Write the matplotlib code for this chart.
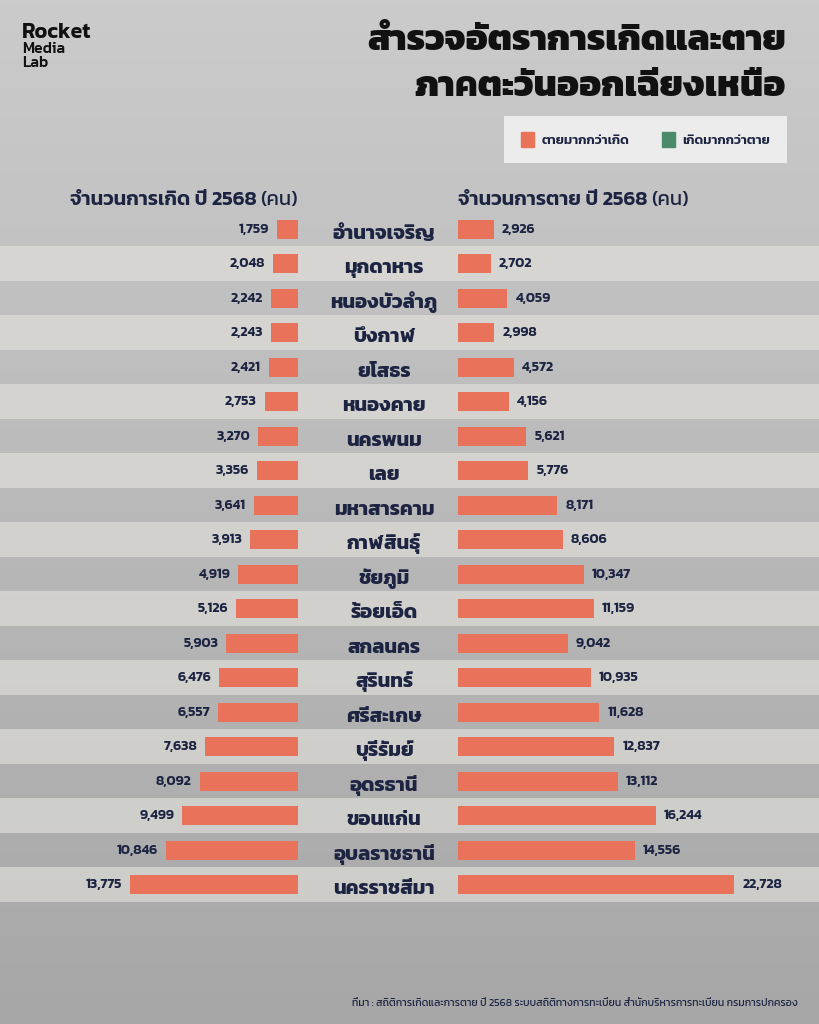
import numpy as np
import matplotlib
matplotlib.use("Agg")
import matplotlib.pyplot as plt
from matplotlib.patches import Patch

plt.rcParams['font.family'] = ['Kanit', 'DejaVu Sans']

# ข้อมูลปี 2568 (คน)
provinces = ['อำนาจเจริญ', 'มุกดาหาร', 'หนองบัวลำภู', 'บึงกาฬ', 'ยโสธร',
             'หนองคาย', 'นครพนม', 'เลย', 'มหาสารคาม', 'กาฬสินธุ์',
             'ชัยภูมิ', 'ร้อยเอ็ด', 'สกลนคร', 'สุรินทร์', 'ศรีสะเกษ',
             'บุรีรัมย์', 'อุดรธานี', 'ขอนแก่น', 'อุบลราชธานี', 'นครราชสีมา']
births = [1759, 2048, 2242, 2243, 2421, 2753, 3270, 3356, 3641, 3913,
          4919, 5126, 5903, 6476, 6557, 7638, 8092, 9499, 10846, 13775]
deaths = [2926, 2702, 4059, 2998, 4572, 4156, 5621, 5776, 8171, 8606,
          10347, 11159, 9042, 10935, 11628, 12837, 13112, 16244, 14556, 22728]

RED = '#e8735a'
GREEN = '#4b8b69'
NAVY = '#1c2442'

W, H = 819, 1024
fig = plt.figure(figsize=(W / 100, H / 100), dpi=100)

# background gradient
bg = fig.add_axes([0, 0, 1, 1], zorder=-10)
grad = np.linspace(0, 1, 256).reshape(-1, 1)
bg.imshow(grad, cmap=matplotlib.colors.LinearSegmentedColormap.from_list(
    'g', ['#cbcbcb', '#a7a7a7']), aspect='auto', extent=[0, 1, 0, 1])
bg.axis('off')

n = len(provinces)
rows = np.arange(n)
top_px, bot_px = 212, 902
ax_b = 1 - bot_px / H
ax_h = (bot_px - top_px) / H
px_unit = 82.2  # persons per pixel

# stripes
band = fig.add_axes([0, ax_b, 1, ax_h], zorder=-5)
band.patch.set_visible(False)
band.set_xlim(0, 1)
band.set_ylim(n - 0.5, -0.5)
for i in rows:
    if i % 2 == 1:
        band.axhspan(i - 0.5, i + 0.5, color='#e3e2dd', alpha=0.62, lw=0)
band.axis('off')

colors = [RED if d > b else GREEN for b, d in zip(births, deaths)]

# births (left)
axl = fig.add_axes([0, ax_b, 298 / W, ax_h])
axl.barh(rows, births, height=0.56, color=colors)
axl.set_xlim(298 * px_unit, 0)
axl.set_ylim(n - 0.5, -0.5)
axl.axis('off')
for i, v in enumerate(births):
    axl.text(v + 8 * px_unit, i, f'{v:,}', ha='right', va='center',
             fontsize=10, fontweight='semibold', color=NAVY)

# deaths (right)
axr = fig.add_axes([458 / W, ax_b, (W - 458) / W, ax_h])
axr.barh(rows, deaths, height=0.56, color=colors)
axr.set_xlim(0, (W - 458) * px_unit)
axr.set_ylim(n - 0.5, -0.5)
axr.axis('off')
for i, v in enumerate(deaths):
    axr.text(v + 8 * px_unit, i, f'{v:,}', ha='left', va='center',
             fontsize=10, fontweight='semibold', color=NAVY)

# province names
for i, name in enumerate(provinces):
    band.text(384 / W, i + 0.27, name, ha='center', va='baseline',
              fontsize=14.5, fontweight='bold', color=NAVY)

# logo
fig.text(22 / W, 1 - 38 / H, 'Rocket', fontsize=15.5, fontweight='semibold',
         color='#111111', va='baseline')
fig.text(22 / W, 1 - 53 / H, 'Media', fontsize=11.3, fontweight='medium',
         color='#111111', va='baseline')
fig.text(22 / W, 1 - 67 / H, 'Lab', fontsize=11.3, fontweight='medium',
         color='#111111', va='baseline')

# title
fig.text(786 / W, 1 - 50 / H, 'สำรวจอัตราการเกิดและตาย', ha='right',
         va='baseline', fontsize=26, fontweight='heavy', color='#111111')
fig.text(786 / W, 1 - 96 / H, 'ภาคตะวันออกเฉียงเหนือ', ha='right',
         va='baseline', fontsize=26, fontweight='heavy', color='#111111')

# column headers
fig.canvas.draw()
r = fig.canvas.get_renderer()
hy = 1 - 205 / H
hs = 14.5
t = fig.text(298 / W, hy, '(คน)', ha='right', va='baseline', fontsize=hs,
             fontweight='normal', color=NAVY)
wpx = t.get_window_extent(r).width
fig.text((298 - wpx - 4) / W, hy, 'จำนวนการเกิด ปี 2568', ha='right',
         va='baseline', fontsize=hs, fontweight='semibold', color=NAVY)
t = fig.text(458 / W, hy, 'จำนวนการตาย ปี 2568', ha='left', va='baseline',
             fontsize=hs, fontweight='semibold', color=NAVY)
wpx = t.get_window_extent(r).width
fig.text((458 + wpx + 4) / W, hy, '(คน)', ha='left', va='baseline',
         fontsize=hs, fontweight='normal', color=NAVY)

# legend
handles = [Patch(color=RED, label='ตายมากกว่าเกิด'),
           Patch(color=GREEN, label='เกิดมากกว่าตาย')]
leg = fig.legend(handles=handles, ncol=2, loc='upper right',
                 bbox_to_anchor=(787 / W, 1 - 116 / H), frameon=True,
                 fancybox=False, facecolor='#ececec', edgecolor='none',
                 framealpha=1, fontsize=9.5, handlelength=1.0,
                 handleheight=1.3, handletextpad=0.6, columnspacing=2.4,
                 borderpad=1.25, borderaxespad=0)
for txt in leg.get_texts():
    txt.set_color(NAVY)
    txt.set_fontweight('semibold')

# source
fig.text(798 / W, 1 - 1003 / H,
         'ที่มา : สถิติการเกิดและการตาย ปี 2568 ระบบสถิติทางการทะเบียน '
         'สำนักบริหารการทะเบียน กรมการปกครอง',
         ha='right', va='center', fontsize=7.6, color=NAVY)

fig.savefig('out.png', dpi=100)
